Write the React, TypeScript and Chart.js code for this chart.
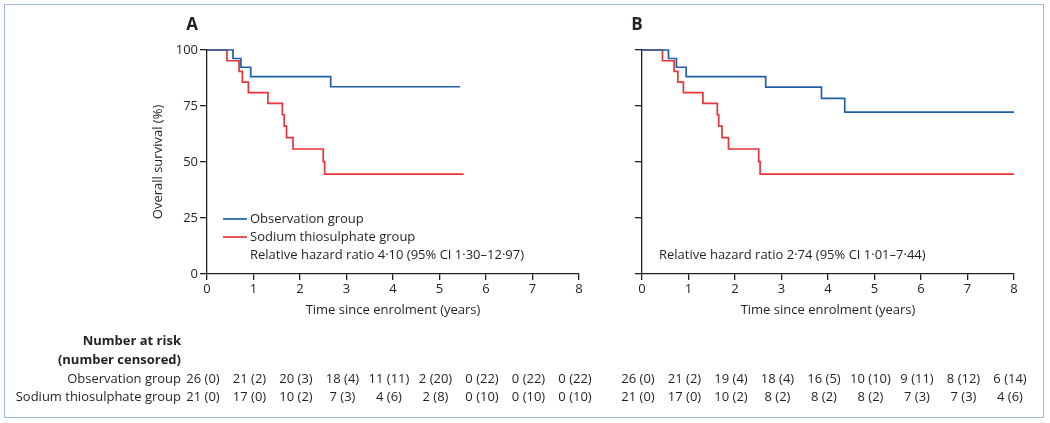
import React, { useEffect, useRef } from "react";
import { Chart, registerables } from "chart.js";

Chart.register(...registerables);

const FONT = "'Open Sans', 'Noto Sans', sans-serif";
const TEXT = "#231f20";
const BLUE = "#1f5fa8";
const RED = "#ec3338";

// Axis ticks
const xTicks = [0, 1, 2, 3, 4, 5, 6, 7, 8];
const yTicks = [0, 25, 50, 75, 100];

// Panel A – Kaplan-Meier steps (time in years, overall survival %)
const obsATime = [0, 0.56, 0.73, 0.94, 2.66, 5.44];
const obsASurv = [100, 96.2, 92.3, 88.1, 83.6, 83.6];
const stsATime = [0, 0.43, 0.69, 0.76, 0.89, 1.31, 1.62, 1.66, 1.71, 1.85, 2.5, 2.53, 5.52];
const stsASurv = [100, 95.2, 90.5, 85.7, 81.0, 76.2, 71.1, 66.0, 60.9, 55.8, 50.2, 44.6, 44.6];

// Panel B
const obsBTime = [0, 0.57, 0.74, 0.95, 2.66, 3.86, 4.36, 8];
const obsBSurv = [100, 96.2, 92.3, 88.1, 83.4, 78.4, 72.3, 72.3];
const stsBTime = [0, 0.44, 0.69, 0.77, 0.89, 1.31, 1.62, 1.65, 1.72, 1.86, 2.51, 2.54, 8];
const stsBSurv = [100, 95.2, 90.5, 85.7, 81.0, 76.2, 71.1, 66.0, 60.9, 55.8, 50.2, 44.6, 44.6];

// Number at risk (number censored)
const obsARisk = ["26 (0)", "21 (2)", "20 (3)", "18 (4)", "11 (11)", "2 (20)", "0 (22)", "0 (22)", "0 (22)"];
const stsARisk = ["21 (0)", "17 (0)", "10 (2)", "7 (3)", "4 (6)", "2 (8)", "0 (10)", "0 (10)", "0 (10)"];
const obsBRisk = ["26 (0)", "21 (2)", "19 (4)", "18 (4)", "16 (5)", "10 (10)", "9 (11)", "8 (12)", "6 (14)"];
const stsBRisk = ["21 (0)", "17 (0)", "10 (2)", "8 (2)", "8 (2)", "8 (2)", "7 (3)", "7 (3)", "4 (6)"];

const groupNames = ["Observation group", "Sodium thiosulphate group"];
const riskHeader = ["Number at risk", "(number censored)"];
const hrA = "Relative hazard ratio 4·10 (95% CI 1·30–12·97)";
const hrB = "Relative hazard ratio 2·74 (95% CI 1·01–7·44)";
const xTitle = "Time since enrolment (years)";
const yTitle = "Overall survival (%)";

type PanelSpec = {
  letter: string;
  letterX: number;
  obsT: number[];
  obsS: number[];
  stsT: number[];
  stsS: number[];
  obsRisk: string[];
  stsRisk: string[];
  showYLabels: boolean;
  showRowLabels: boolean;
  showLegend: boolean;
  hr: string;
  hrX: number;
  padding: { left: number; right: number; top: number; bottom: number };
  yWidth: number;
};

const toPoints = (t: number[], s: number[]) => t.map((x, i) => ({ x, y: s[i] }));

function makePlugin(p: PanelSpec) {
  return {
    id: "kmText" + p.letter,
    afterDraw(chart: any) {
      const ctx = chart.ctx as CanvasRenderingContext2D;
      const xs = chart.scales.x;
      ctx.save();
      ctx.fillStyle = TEXT;
      ctx.textBaseline = "middle";
      // panel letter
      ctx.font = `bold 17px ${FONT}`;
      ctx.textAlign = "center";
      ctx.fillText(p.letter, p.letterX, 25);

      ctx.font = `13px ${FONT}`;
      ctx.textAlign = "left";
      if (p.showLegend) {
        const colors = [BLUE, RED];
        const ys = [219, 237];
        groupNames.forEach((name, i) => {
          ctx.strokeStyle = colors[i];
          ctx.lineWidth = 1.7;
          ctx.beginPath();
          ctx.moveTo(223, ys[i]);
          ctx.lineTo(247, ys[i]);
          ctx.stroke();
          ctx.fillText(name, 250, ys[i]);
        });
      }
      ctx.fillText(p.hr, p.hrX, 255);

      // number at risk table
      if (p.showRowLabels) {
        ctx.textAlign = "right";
        ctx.font = `bold 13px ${FONT}`;
        ctx.fillText(riskHeader[0], 181, 341);
        ctx.fillText(riskHeader[1], 181, 360);
        ctx.font = `13px ${FONT}`;
        ctx.fillText(groupNames[0], 181, 379);
        ctx.fillText(groupNames[1], 181, 397);
      }
      ctx.font = `13px ${FONT}`;
      ctx.textAlign = "center";
      xTicks.forEach((t, i) => {
        const x = xs.getPixelForValue(t) - 4;
        ctx.fillText(p.obsRisk[i], x, 379);
        ctx.fillText(p.stsRisk[i], x, 397);
      });
      ctx.restore();
    },
  };
}

function makeConfig(p: PanelSpec): any {
  return {
    type: "line",
    data: {
      datasets: [
        {
          label: groupNames[0],
          data: toPoints(p.obsT, p.obsS),
          borderColor: BLUE,
          borderWidth: 1.7,
          stepped: "before",
          pointRadius: 0,
          fill: false,
          clip: false,
        },
        {
          label: groupNames[1],
          data: toPoints(p.stsT, p.stsS),
          borderColor: RED,
          borderWidth: 1.7,
          stepped: "before",
          pointRadius: 0,
          fill: false,
          clip: false,
        },
      ],
    },
    options: {
      responsive: false,
      animation: false,
      events: [],
      layout: { padding: p.padding },
      plugins: { legend: { display: false }, tooltip: { enabled: false } },
      scales: {
        x: {
          type: "linear",
          min: 0,
          max: 8,
          afterBuildTicks: (scale: any) => {
            scale.ticks = xTicks.map((v) => ({ value: v }));
          },
          afterFit: (scale: any) => {
            scale.height = 48;
          },
          ticks: { color: TEXT, font: { family: FONT, size: 13 }, padding: 1, maxRotation: 0 },
          grid: { drawOnChartArea: false, drawTicks: true, tickLength: 6, color: TEXT, lineWidth: 1.3 },
          border: { display: true, color: TEXT, width: 1.3 },
          title: { display: true, text: xTitle, color: TEXT, font: { family: FONT, size: 13 } },
        },
        y: {
          type: "linear",
          min: 0,
          max: 100,
          afterBuildTicks: (scale: any) => {
            scale.ticks = yTicks.map((v) => ({ value: v }));
          },
          afterFit: (scale: any) => {
            scale.width = p.yWidth;
          },
          ticks: {
            display: p.showYLabels,
            color: TEXT,
            font: { family: FONT, size: 13 },
            padding: 2,
          },
          grid: { drawOnChartArea: false, drawTicks: true, tickLength: 7, color: TEXT, lineWidth: 1.3 },
          border: { display: true, color: TEXT, width: 1.3 },
          title: {
            display: p.showYLabels,
            text: yTitle,
            color: TEXT,
            font: { family: FONT, size: 13 },
          },
        },
      },
    },
    plugins: [makePlugin(p)],
  };
}

const panelA: PanelSpec = {
  letter: "A",
  letterX: 192,
  obsT: obsATime,
  obsS: obsASurv,
  stsT: stsATime,
  stsS: stsASurv,
  obsRisk: obsARisk,
  stsRisk: stsARisk,
  showYLabels: true,
  showRowLabels: true,
  showLegend: true,
  hr: hrA,
  hrX: 250,
  padding: { left: 146, right: 21, top: 50, bottom: 101 },
  yWidth: 61,
};

const panelB: PanelSpec = {
  letter: "B",
  letterX: 37,
  obsT: obsBTime,
  obsS: obsBSurv,
  stsT: stsBTime,
  stsS: stsBSurv,
  obsRisk: obsBRisk,
  stsRisk: stsBRisk,
  showYLabels: false,
  showRowLabels: false,
  showLegend: false,
  hr: hrB,
  hrX: 59,
  padding: { left: 32, right: 36, top: 50, bottom: 101 },
  yWidth: 10,
};

function Panel({ spec, left, width }: { spec: PanelSpec; left: number; width: number }) {
  const ref = useRef<HTMLCanvasElement | null>(null);
  useEffect(() => {
    if (!ref.current) return;
    const chart = new Chart(ref.current, makeConfig(spec));
    return () => chart.destroy();
  }, [spec]);
  return (
    <canvas
      ref={ref}
      width={width}
      height={423}
      style={{ position: "absolute", left, top: 0, width, height: 423 }}
    />
  );
}

export default function App() {
  return (
    <div
      style={{
        position: "fixed",
        left: 0,
        top: 0,
        width: 1050,
        height: 423,
        background: "#ffffff",
        overflow: "hidden",
      }}
    >
      <div
        style={{
          position: "absolute",
          left: 4,
          top: 4,
          width: 1040,
          height: 414,
          boxSizing: "border-box",
          border: "1.5px solid #9fb9dc",
        }}
      />
      <Panel spec={panelA} left={0} width={600} />
      <Panel spec={panelB} left={600} width={450} />
    </div>
  );
}
